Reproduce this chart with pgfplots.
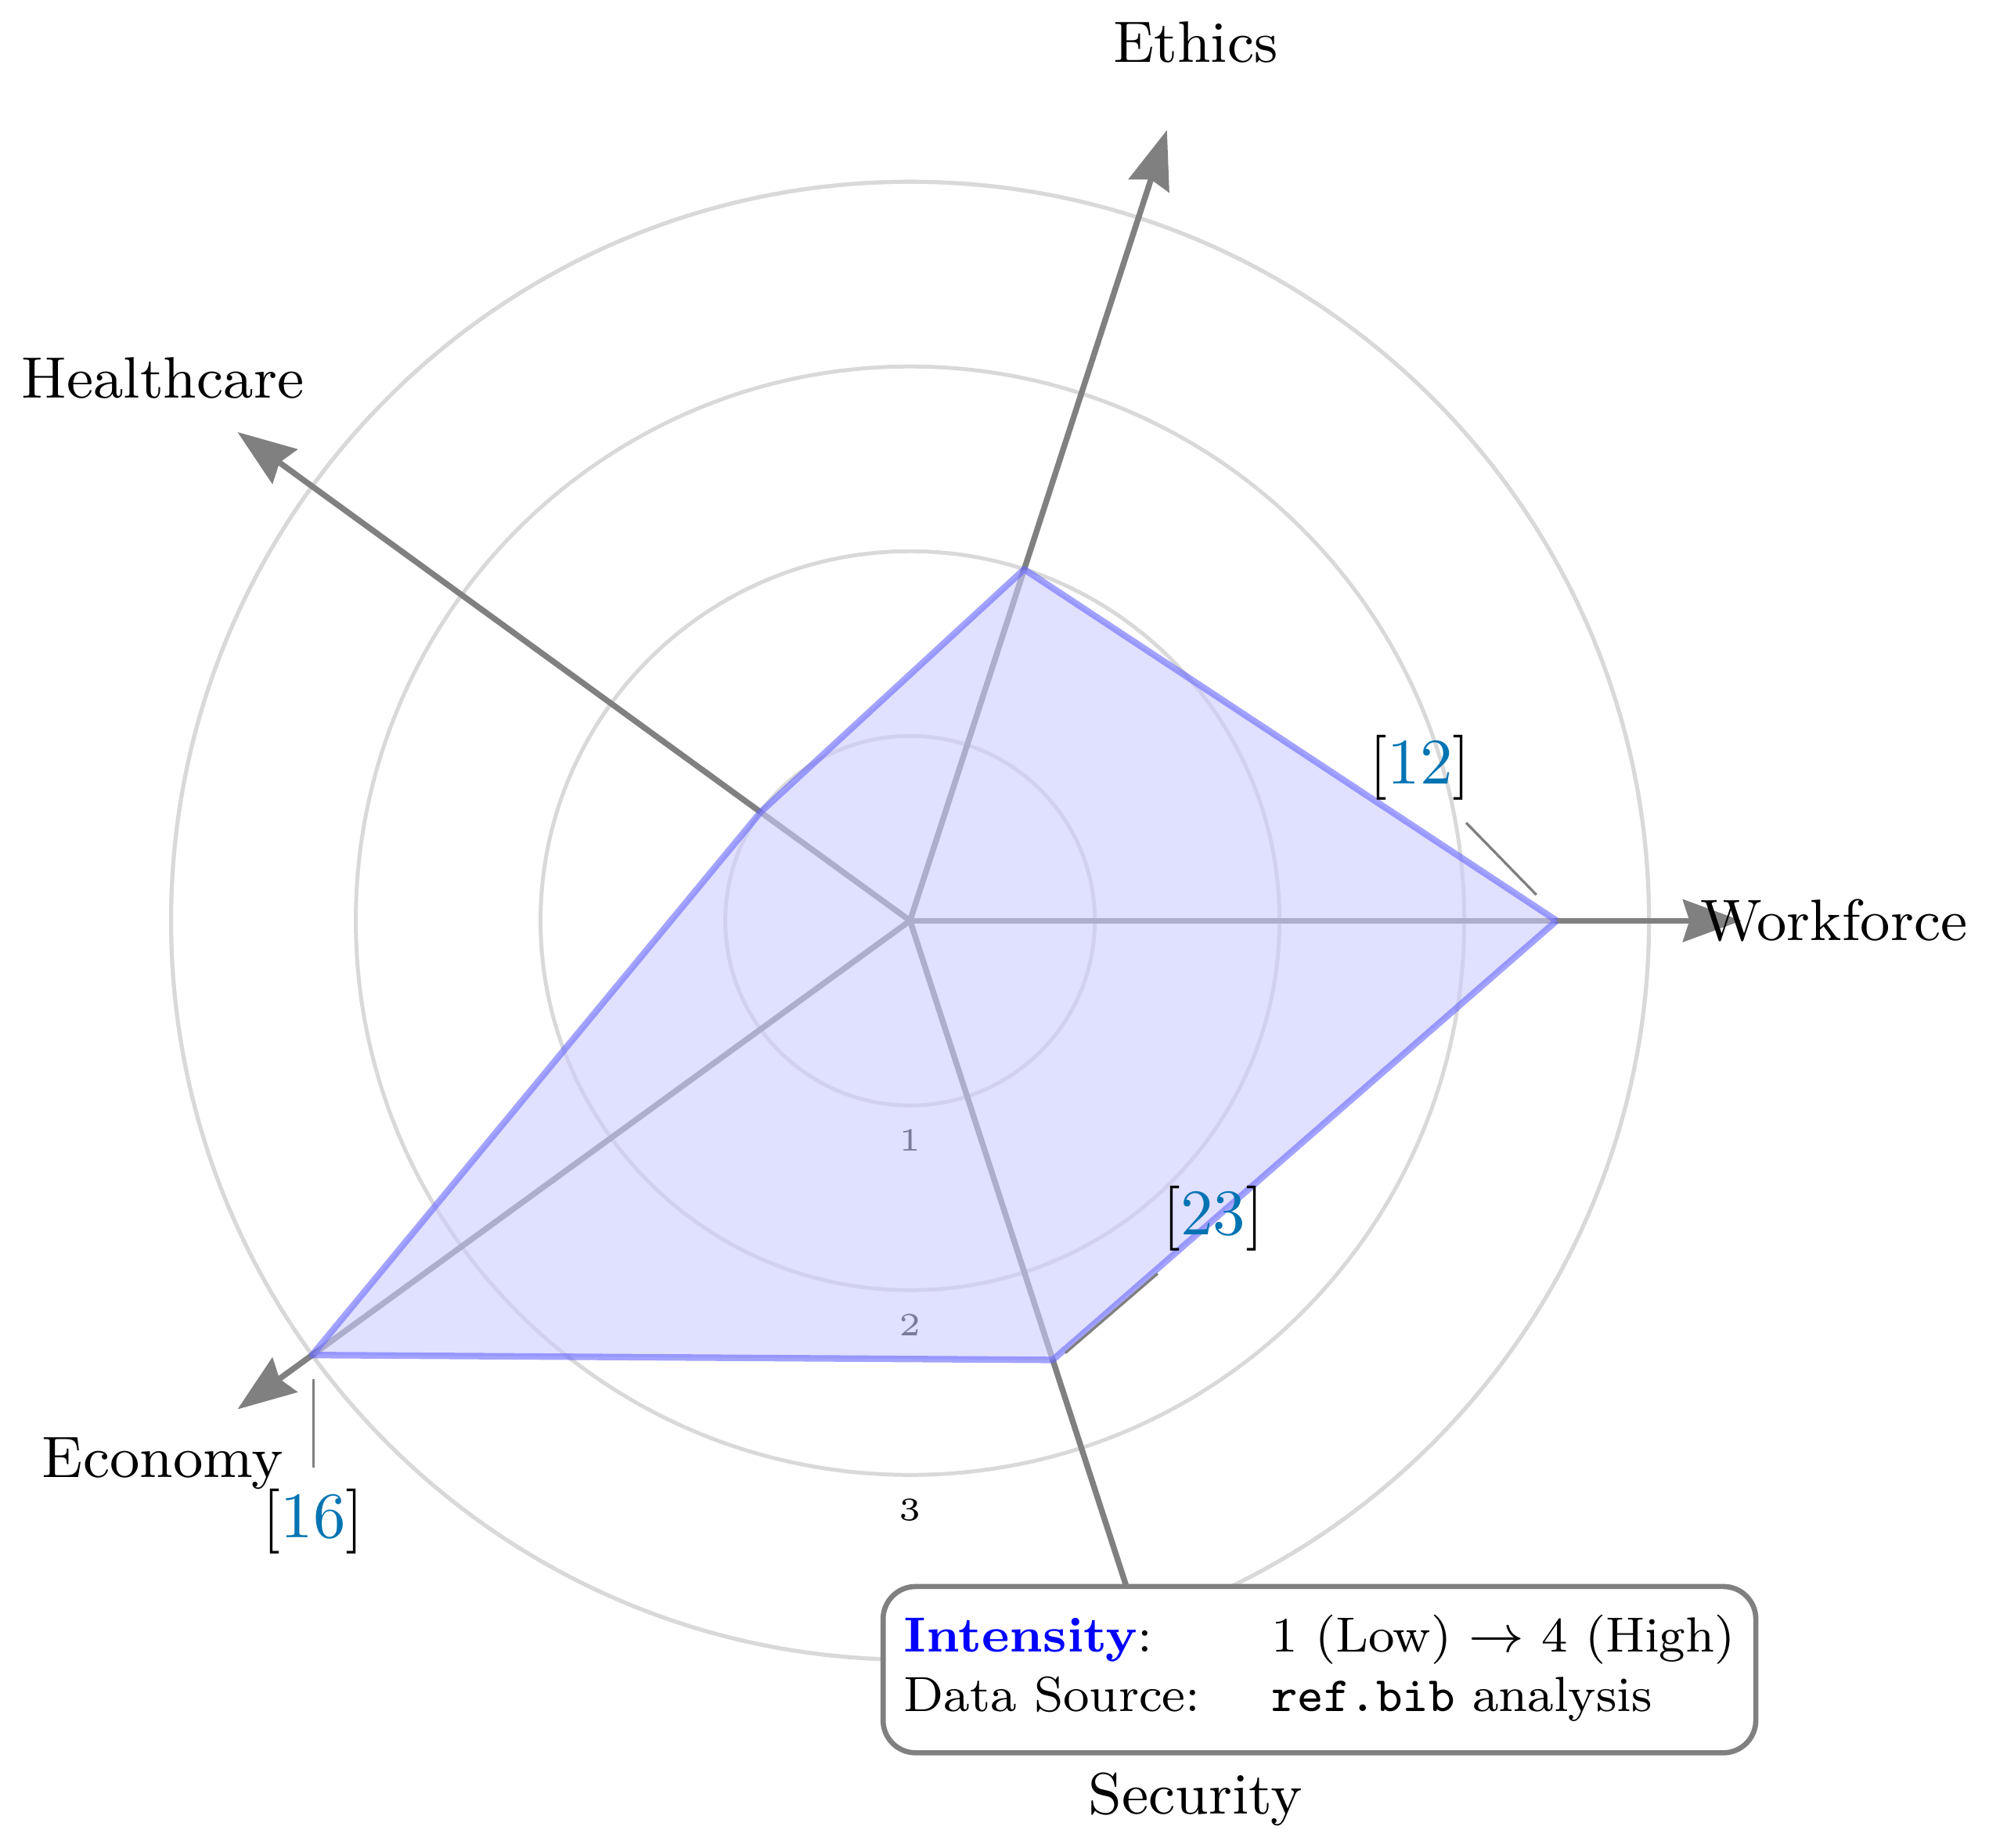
\documentclass[border=0pt]{standalone}
\usepackage{pgfplots}
\pgfplotsset{compat=1.18}
\usepgfplotslibrary{polar}
\usetikzlibrary{arrows.meta}
\definecolor{citeblue}{rgb}{0,0.45,0.7}
\begin{document}
\begin{tikzpicture}
\begin{polaraxis}[
  scale only axis, width=8cm, height=8cm,
  xmin=0, xmax=360, ymin=0, ymax=4,
  xtick=\empty, ytick={1,2,3,4}, yticklabels=\empty,
  ymajorgrids, major grid style={gray!30, line width=0.6pt},
  axis line style={gray!30, line width=0.6pt},
  y axis line style={draw=none},
  major tick length=0pt,
  clip=false,
]
\coordinate (O) at (axis cs:0,0);
% radial scale labels (the one at 4 sits under the legend box)
\node[font=\tiny] at (axis cs:270,1.19) {1};
\node[font=\tiny] at (axis cs:270,2.19) {2};
\node[font=\tiny] at (axis cs:270,3.19) {3};
% spokes
\draw[gray, line width=0.9pt, -{Stealth[length=9pt,width=6.5pt,inset=1pt]}] (axis cs:0,0) -- (axis cs:0,4.5);
\draw[gray, line width=0.9pt, -{Stealth[length=9pt,width=6.5pt,inset=1pt]}] (axis cs:72,0) -- (axis cs:72,4.5);
\draw[gray, line width=0.9pt, -{Stealth[length=9pt,width=6.5pt,inset=1pt]}] (axis cs:144,0) -- (axis cs:144,4.5);
\draw[gray, line width=0.9pt, -{Stealth[length=9pt,width=6.5pt,inset=1pt]}] (axis cs:216,0) -- (axis cs:216,4.5);
\draw[gray, line width=0.9pt, -{Stealth[length=9pt,width=6.5pt,inset=1pt]}] (axis cs:288,0) -- (axis cs:288,4.5);
% intensity
\addplot[draw=blue!60, fill=blue!20, opacity=0.6, line width=1pt, line join=round]
  coordinates {(0,3.5) (72,2) (144,1) (216,4) (288,2.5) (360,3.5)};
% citations
\draw[gray, line width=0.4pt] ([shift={(3.01cm,0.53cm)}]O) -- ([shift={(3.39cm,0.14cm)}]O);
\draw[gray, line width=0.4pt] ([shift={(1.34cm,-1.91cm)}]O) -- ([shift={(0.84cm,-2.34cm)}]O);
\draw[gray, line width=0.4pt] ([shift={(-3.23cm,-2.48cm)}]O) -- ([shift={(-3.23cm,-2.96cm)}]O);
\node at ([shift={(2.76cm,0.83cm)}]O) {[\textcolor{citeblue}{12}]};
\node at ([shift={(1.64cm,-1.61cm)}]O) {[\textcolor{citeblue}{23}]};
\node at ([shift={(-3.23cm,-3.25cm)}]O) {[\textcolor{citeblue}{16}]};
% dimension labels
\node[font=\small] at (axis cs:0,5) {Workforce};
\node[font=\small] at (axis cs:72,5) {Ethics};
\node[font=\small] at (axis cs:144,5) {Healthcare};
\node[font=\small] at (axis cs:216,5) {Economy};
\node[font=\small] at (axis cs:288,5) {Security};
\end{polaraxis}
\node[draw=gray, line width=0.8pt, rounded corners=5pt, fill=white, anchor=north west,
      minimum width=4.6cm, minimum height=0.9cm, inner xsep=3.2pt, align=left,
      font=\fontsize{7.6}{9.2}\selectfont]
  at ([shift={(-0.16cm,-3.59cm)}]O)
  {\begin{tabular}{@{}p{1.99cm}@{}l@{}}
   \textcolor{blue}{\textbf{Intensity}}: & 1 (Low) $\rightarrow$ 4 (High)\\
   Data Source: & \texttt{ref.bib} analysis
   \end{tabular}};
\end{tikzpicture}
\end{document}
